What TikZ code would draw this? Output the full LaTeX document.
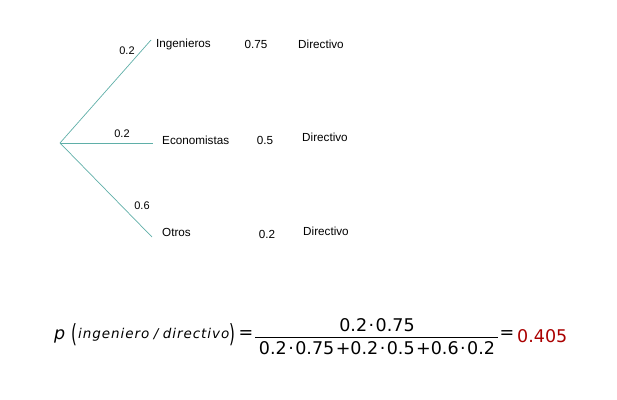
\documentclass[tikz,border=0pt]{standalone}
\usepackage{fontspec}
\setmainfont{Liberation Sans}
\newfontfamily\verd{DejaVu Sans}
\newfontfamily\verdit[LetterSpace=7]{DejaVu Sans Oblique}
\begin{document}
\begin{tikzpicture}[x=1pt,y=-1pt,
  br/.style={draw={rgb,255:red,95;green,175;blue,168}, line width=0.7pt},
  lbl/.style={font=\fontsize{11.7}{13}\selectfont, inner sep=0pt},
  pr/.style={font=\fontsize{11}{12}\selectfont, inner sep=0pt},
  fm/.style={font=\verd\fontsize{17.5}{20}\selectfont, inner sep=0pt},
  par/.style={inner sep=0pt,font=\verd\fontsize{20}{22}\selectfont}]
\useasboundingbox (0,0) rectangle (617,399);
\coordinate (root) at (60,143);
\coordinate (e1) at (151,40);
\coordinate (e2) at (153,143);
\coordinate (e3) at (152,237);
\draw[br] (root) -- (e1);
\draw[br] (root) -- (e2);
\draw[br] (root) -- (e3);
\node[pr] (p1) at (127,51) {0.2};
\node[pr] (p2) at (122,134) {0.2};
\node[pr] (p3) at (142,206) {0.6};
\node[lbl,anchor=west] (ing) at (156,44) {Ingenieros};
\node[lbl,anchor=west] (eco) at (162,140) {Economistas};
\node[lbl,anchor=west] (otr) at (162,232) {Otros};
\node[lbl] (c1) at (256,44) {0.75};
\node[lbl] (c2) at (265,140) {0.5};
\node[lbl] (c3) at (267,234) {0.2};
\node[lbl,anchor=west] (d1) at (298,44) {Directivo};
\node[lbl,anchor=west] (d2) at (302,137) {Directivo};
\node[lbl,anchor=west] (d3) at (303,231) {Directivo};
% formula
\node[fm,anchor=west] (p) at (54,336) {\itshape p};
\node[par] (lp) at (74,335) {\scalebox{0.75}[1.25]{(}};
\node[inner sep=0pt,font=\verdit\fontsize{13.5}{15}\selectfont,anchor=west] (arg) at (78,335) {ingeniero\,\,/\,\,directivo};
\node[par] (rp) at (232,335) {\scalebox{0.75}[1.25]{)}};
\node[fm] (eq1) at (246,335) {=};
\coordinate (fa) at (255,337.5);
\coordinate (fb) at (498,337.5);
\draw[line width=0.8pt] (fa) -- (fb);
\node[fm] (num) at (377,325) {0.2\kern1.5pt·\kern1.5pt0.75};
\node[fm] (den) at (377,348) {0.2\kern1.5pt·\kern1.5pt0.75\kern1.5pt+0.2\kern1.5pt·\kern1.5pt0.5\kern1.5pt+0.6\kern1.5pt·\kern1.5pt0.2};
\node[fm] (eq2) at (507,335) {=};
\node[fm,anchor=west,text={rgb,255:red,170;green,0;blue,0}] (res) at (517,336) {0.405};
\end{tikzpicture}
\end{document}
